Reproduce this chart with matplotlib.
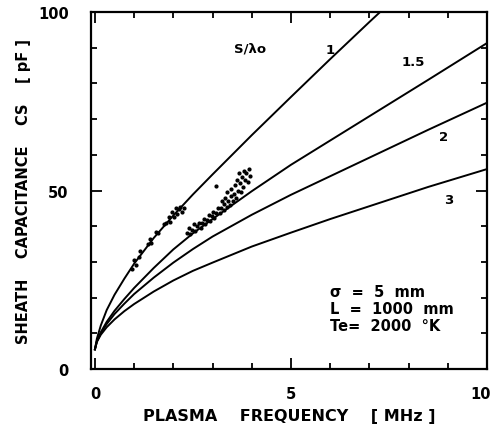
import matplotlib.pyplot as plt
from matplotlib.ticker import MultipleLocator
from matplotlib.transforms import ScaledTranslation

# curves Cs(f) for S/lambda = 1, 1.5, 2, 3
freq_1 = [0, 0.05, 0.15, 0.3, 0.5, 0.75, 1.0, 1.5, 2.0, 2.5, 3.0, 4.0, 5.0, 6.0, 7.0, 7.5]
cs_1 = [5.5, 8.5, 12.2, 16.5, 20.8, 25.3, 29.5, 36.7, 43.0, 48.9, 54.5, 65.5, 76.2, 86.8, 97.2, 102.3]

freq = [0, 0.05, 0.15, 0.3, 0.5, 0.75, 1.0, 1.5, 2.0, 2.5, 3.0, 4.0, 5.0, 6.0, 7.0, 8.5, 10]
cs_15 = [5.5, 7.8, 10.3, 13.2, 16.3, 19.6, 22.7, 28.3, 33.5, 38.0, 42.0, 49.8, 57.2, 64.0, 70.8, 81.0, 91.3]
cs_2 = [5.5, 7.7, 10.0, 12.6, 15.4, 18.3, 21.0, 25.6, 29.8, 33.6, 37.1, 43.2, 48.8, 54.0, 59.2, 67.0, 74.6]
cs_3 = [5.5, 7.6, 9.6, 11.7, 13.9, 16.2, 18.2, 21.7, 24.8, 27.5, 29.8, 34.3, 38.2, 42.0, 45.6, 51.0, 56.0]

x_ticks = [0, 5, 10]
x_labels = ['0', '5', '10']

# measured points
meas_f = [0.95, 1.0, 1.05, 1.12, 1.15, 1.35, 1.40, 1.42, 1.55, 1.62, 1.75, 1.82,
          1.88, 1.92, 1.97, 2.02, 2.06, 2.10, 2.14, 2.18, 2.22, 2.26,
          2.35, 2.40, 2.42, 2.48, 2.52, 2.55, 2.60, 2.66, 2.70, 2.74, 2.78, 2.82,
          2.86, 2.90, 2.94, 2.98, 3.02, 3.05, 3.09, 3.10, 3.14, 3.18, 3.22, 3.25,
          3.28, 3.30, 3.33, 3.36, 3.38, 3.40, 3.44, 3.46, 3.48, 3.52, 3.55, 3.58,
          3.60, 3.62, 3.65, 3.68, 3.70, 3.72, 3.75, 3.78, 3.80, 3.83, 3.86, 3.90,
          3.92, 3.95]
meas_c = [28.0, 30.5, 29.0, 31.5, 33.0, 35.0, 36.5, 35.2, 38.5, 38.0, 40.5, 41.0,
          42.5, 41.2, 44.0, 42.5, 45.0, 43.5, 44.8, 45.5, 44.0, 45.2,
          38.0, 39.5, 37.8, 39.0, 40.5, 38.6, 40.0, 41.0, 39.6, 40.8, 42.0, 40.5,
          41.8, 43.0, 41.5, 42.8, 44.0, 42.4, 51.2, 43.6, 45.0, 43.8, 45.2, 47.0,
          44.6, 46.2, 48.0, 45.5, 49.5, 47.0, 46.0, 48.5, 50.5, 47.2, 49.0, 51.5,
          48.0, 53.0, 50.0, 55.0, 52.0, 49.5, 53.8, 51.0, 55.5, 53.0, 54.8, 52.5,
          56.0, 54.0]

fig = plt.figure(figsize=(4.94, 4.35), dpi=100)
ax = fig.add_axes([0.1842, 0.1494, 0.8016, 0.8207])

ax.plot(freq_1, cs_1, color='black', lw=1.4)
for c in [cs_15, cs_2, cs_3]:
    ax.plot(freq, c, color='black', lw=1.4)
ax.plot(meas_f, meas_c, '.', color='black', ms=4)

ax.set_xlim(-0.1, 10)
ax.set_ylim(0, 100)

ax.set_xticks(x_ticks, x_labels[:-1] + [''])
ax.xaxis.set_minor_locator(MultipleLocator(1))
ax.yaxis.set_major_locator(MultipleLocator(50))
ax.yaxis.set_minor_locator(MultipleLocator(10))
ax.tick_params(which='both', direction='in', top=True, right=True, width=1.3,
               labelsize=10.5, colors='black')
ax.tick_params(which='major', length=8)
ax.tick_params(which='minor', length=4)
ax.tick_params(axis='x', which='major', pad=12)
ax.tick_params(axis='y', which='major', pad=16)
for lab in ax.get_xticklabels() + ax.get_yticklabels():
    lab.set_fontweight('bold')
# last x label sits right at the figure edge, nudge it left a bit
ax.text(x_ticks[-1], 0, x_labels[-1], fontsize=10.5, fontweight='bold',
        ha='center', va='top',
        transform=ax.get_xaxis_transform() + ScaledTranslation(-6 / 100, -12 / 72, fig.dpi_scale_trans))
for s in ax.spines.values():
    s.set_linewidth(1.6)

ax.set_xlabel('PLASMA    FREQUENCY    [ MHz ]', fontsize=11.5, fontweight='bold',
              labelpad=5)
ax.set_ylabel('SHEATH    CAPACITANCE    CS    [ pF ]', fontsize=10.5,
              fontweight='bold', labelpad=5)

txt = dict(fontsize=9.5, fontweight='bold', ha='center', va='center')
ax.text(3.95, 90, 'S/λo', **txt)
ax.text(6.0, 89.4, '1', **txt)
ax.text(8.13, 86, '1.5', **txt)
ax.text(8.9, 65, '2', **txt)
ax.text(9.03, 47.5, '3', **txt)

note = dict(fontsize=10.5, fontweight='bold', va='center')
ax.text(6.0, 21.6, 'σ  =  5  mm', **note)
ax.text(6.0, 17.0, 'L  =  1000  mm', **note)
ax.text(6.0, 12.2, 'Te=  2000  °K', **note)

fig.savefig('out.png', dpi=100)
